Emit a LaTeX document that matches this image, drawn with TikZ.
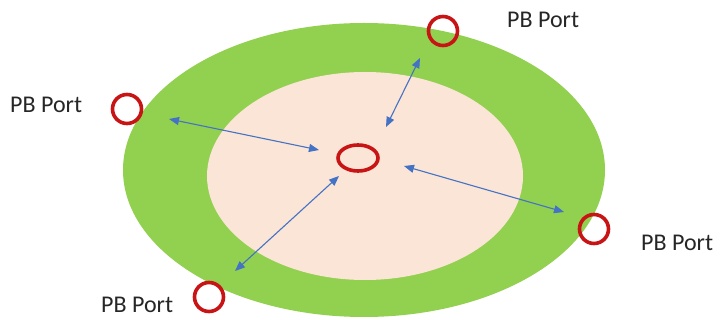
\documentclass[tikz,border=0pt]{standalone}
\usepackage{fontspec}
\setmainfont{Carlito}
\usetikzlibrary{arrows.meta,shapes.geometric}
\definecolor{ringgreen}{HTML}{92D050}
\definecolor{innerpeach}{HTML}{FBE5D6}
\definecolor{portred}{HTML}{C81414}
\definecolor{arrowblue}{HTML}{4472C4}
\tikzset{
  port/.style={circle, draw=portred, line width=3.6pt, minimum size=29pt, inner sep=0pt},
  hub/.style={ellipse, draw=portred, line width=3.6pt, minimum width=40pt, minimum height=26pt, inner sep=0pt},
  lbl/.style={anchor=west, inner sep=0pt, font=\fontsize{24}{28}\selectfont, text=black!85},
  link/.style={arrowblue, line width=1.1pt, {Triangle[length=10pt,width=8pt]}-{Triangle[length=10pt,width=8pt]}}
}
\begin{document}
\begin{tikzpicture}[x=1pt,y=-1pt]
\useasboundingbox (0,0) rectangle (720,320);
% rings
\fill[ringgreen] (364,170) ellipse [x radius=241, y radius=147];
\fill[innerpeach] (365,176) ellipse [x radius=158, y radius=104];
% ports
\node[port] (ptop) at (443,31) {};
\node[port] (pleft) at (127,109) {};
\node[port] (pright) at (594,229) {};
\node[port] (pbot) at (209,297) {};
\node[hub] (hub) at (358,158) {};
% labels
\node[lbl] (ltop) at (507,20) {PB Port};
\node[lbl] (lleft) at (10,105) {PB Port};
\node[lbl] (lright) at (641,243) {PB Port};
\node[lbl] (lbot) at (101,305) {PB Port};
% arrow ends
\coordinate (a1) at (420,58);
\coordinate (b1) at (386,127);
\coordinate (a2) at (169,119);
\coordinate (b2) at (319,150);
\coordinate (a3) at (404,166);
\coordinate (b3) at (564,212);
\coordinate (a4) at (235,271);
\coordinate (b4) at (339,176);
\draw[link] (a1) -- (b1);
\draw[link] (a2) -- (b2);
\draw[link] (a3) -- (b3);
\draw[link] (a4) -- (b4);
\end{tikzpicture}
\end{document}
